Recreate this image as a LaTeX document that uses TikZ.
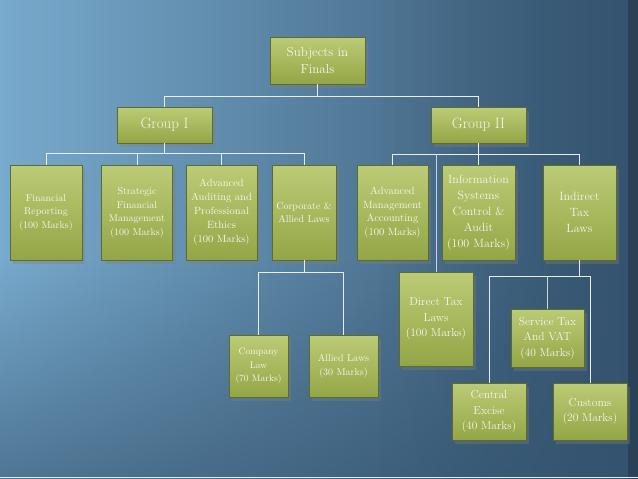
\documentclass[tikz,border=0pt]{standalone}
\usepackage{tikz}
\usetikzlibrary{shadows,fadings}
\definecolor{bgL}{HTML}{78AACD}
\definecolor{bgR}{HTML}{34536E}
\definecolor{boxtop}{HTML}{BCCB76}
\definecolor{boxbot}{HTML}{93A646}
\definecolor{boxline}{HTML}{5E6B2A}
\definecolor{boxtext}{HTML}{F6F6EA}
\tikzset{
  subj/.style={draw=boxline, top color=boxtop, bottom color=boxbot, text=boxtext,
    align=center, inner sep=1pt, minimum height=95pt,
    drop shadow={opacity=0.35, shadow xshift=3pt, shadow yshift=-4pt}},
  fs/.style 2 args={font=\fontsize{#1}{#2}\selectfont},
  link/.style={draw=white!92!blue, line width=1pt}
}
\begin{document}
\begin{tikzpicture}
[x=1pt, y=-1pt]
  \useasboundingbox (0,0) rectangle (638,479);
  \shade[left color=bgL, right color=bgR] (0,0) rectangle (638,479);
  \fill[bgR, path fading=north, opacity=0.6] (0,260) rectangle (638,479);
  \fill[bgR, path fading=west, opacity=0.5] (380,0) rectangle (638,479);
  \fill[black, opacity=0.2] (628,0) rectangle (638,479);
  \draw[white!80!bgL, line width=1pt] (0,477) -- (638,477);
  % rows where the connectors meet
  \coordinate (r0) at (0,96);
  \coordinate (r1) at (0,153);
  \coordinate (r2) at (0,154);
  \coordinate (r3) at (0,272);
  \coordinate (r4) at (0,276);
  \node[subj, fs={13}{17}, minimum width=95pt, minimum height=47pt] (top) at (317.5,60.5) {Subjects in\\Finals};
  \node[subj, fs={15}{18}, minimum width=95pt, minimum height=36pt] (g1) at (164.5,125) {Group I};
  \node[subj, fs={15}{18}, minimum width=95pt, minimum height=36pt] (g2) at (478.5,125) {Group II};
  % group I
  \node[subj, fs={10}{13.5}, minimum width=72pt] (fr) at (46,212.5) {Financial\\Reporting\\(100 Marks)};
  \node[subj, fs={10}{13.5}, minimum width=71pt] (sfm) at (137,212.5) {Strategic\\Financial\\Management\\(100 Marks)};
  \node[subj, fs={10.5}{14}, minimum width=71pt] (aap) at (221.5,212.5) {Advanced\\Auditing and\\Professional\\Ethics\\(100 Marks)};
  \node[subj, fs={10}{13.5}, minimum width=64pt] (cal) at (304,212.5) {Corporate \&\\Allied Laws};
  \node[subj, fs={9.5}{13.5}, minimum width=59pt, minimum height=62pt] (cl) at (258.5,366) {Company\\Law\\(70 Marks)};
  \node[subj, fs={10}{14}, minimum width=69pt, minimum height=62pt] (al) at (343.5,366) {Allied Laws\\(30 Marks)};
  % group II
  \node[subj, fs={10.5}{13.5}, minimum width=71pt] (ama) at (392.5,212.5) {Advanced\\Management\\Accounting\\(100 Marks)};
  \node[subj, fs={12}{16}, minimum width=73pt] (isca) at (478.5,212.5) {Information\\Systems\\Control \&\\Audit\\(100 Marks)};
  \node[subj, fs={12}{16}, minimum width=73pt] (itl) at (579.5,212.5) {Indirect\\Tax\\Laws};
  \node[subj, fs={11.5}{15.5}, minimum width=74pt, minimum height=94pt] (dtl) at (436,319) {Direct Tax\\Laws\\(100 Marks)};
  \node[subj, fs={11.5}{15.5}, minimum width=73pt, minimum height=58pt] (stv) at (547.5,338) {Service Tax\\And VAT\\(40 Marks)};
  \node[subj, fs={11.5}{15.5}, minimum width=74pt, minimum height=57pt] (ce) at (489,411.5) {Central\\Excise\\(40 Marks)};
  \node[subj, fs={11.5}{15.5}, minimum width=74pt, minimum height=57pt] (cus) at (590,411.5) {Customs\\(20 Marks)};
  % connectors
  \draw[link] (top.south) -- (top.south |- r0);
  \draw[link] (g1.north) |- (g2.north |- r0) -- (g2.north);
  \draw[link] (g1.south) -- (g1.south |- r1);
  \draw[link] (fr.north) |- (cal.north |- r1) -- (cal.north);
  \foreach \n in {sfm,aap}
    \draw[link] (\n.north) -- (\n.north |- r1);
  \draw[link] (g2.south) -- (g2.south |- r2);
  \draw[link] (ama.north) |- (itl.north |- r2) -- (itl.north);
  \draw[link] (isca.north) -- (isca.north |- r2);
  \draw[link, draw=white!75!bgR] (dtl.north) -- (dtl.north |- r2);
  \draw[link] (cal.south) -- (cal.south |- r3);
  \draw[link] (cl.north) |- (al.north |- r3) -- (al.north);
  \draw[link] (itl.south) -- (itl.south |- r4);
  \draw[link] (ce.north) |- (cus.north |- r4) -- (cus.north);
  \draw[link, draw=white!75!bgR] (stv.north) -- (stv.north |- r4);
\end{tikzpicture}
\end{document}
